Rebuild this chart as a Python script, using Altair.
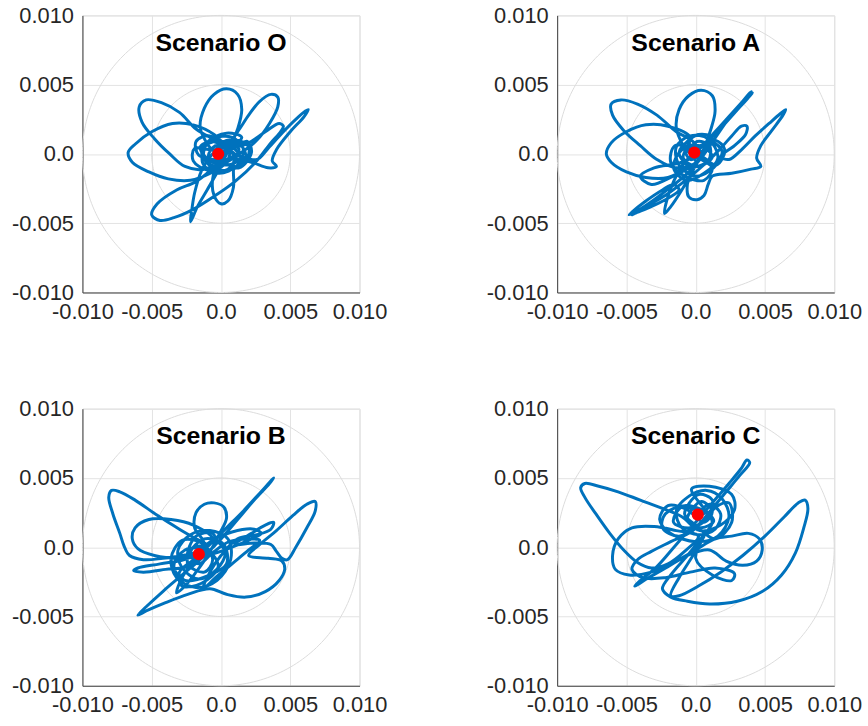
import numpy as np
import pandas as pd
import altair as alt

# Trajectory waypoints, in thousandths (x 1e-3)
titles = ["Scenario O", "Scenario A", "Scenario B", "Scenario C"]

o_path = [
    (0, 0), (1.2, 0.8), (1.8, -0.2), (0.9, -1.1), (-0.6, -1.0), (-1.4, 0.2), (-0.6, 1.1), (0.8, 1.2),
    (1.6, 0.4), (1.2, -0.8), (-0.2, -1.4), (-1.3, -0.7), (-1.1, 0.6), (0.2, 0.9), (1.4, -0.3),
    (0.4, -0.8), (-0.9, -0.2), (-0.4, 0.6), (0.9, 0.5), (1.9, 0.9), (2.2, 0.1), (1.3, -1.0),
    (-0.1, -0.5), (-1.6, -0.1), (-1.8, 0.9), (-0.8, 1.3), (0.6, 0.2),
    # left horizontal ellipse
    (-0.5, 1.4), (-2.0, 2.1), (-3.5, 2.2), (-5.0, 1.6), (-6.2, 0.7), (-6.7, 0.1), (-6.4, -0.6),
    (-5.2, -1.3), (-3.8, -1.8), (-2.2, -1.9), (-0.8, -1.4), (0.4, -0.6),
    # upper-left petal
    (0.6, 0.5), (-0.6, 1.1), (-1.8, 1.8), (-3.0, 3.0), (-4.3, 3.7), (-5.4, 3.9), (-5.9, 3.4),
    (-5.7, 2.3), (-4.8, 1.1), (-3.7, 0.0), (-2.6, -0.9), (-1.2, -1.1), (0.0, -0.4),
    # top petal and bottom spike
    (-0.9, 0.6), (-1.5, 1.9), (-1.2, 3.3), (-0.5, 4.3), (0.4, 4.7), (1.2, 4.3), (1.5, 3.2),
    (1.2, 1.8), (0.6, 0.4), (-0.2, -1.2), (-1.0, -2.6), (-1.7, -3.8), (-2.2, -4.9), (-2.1, -4.0),
    (-1.9, -2.8), (-1.4, -1.2), (-0.6, 0.0),
    # upper-right petal
    (0.4, 0.6), (1.2, 1.6), (2.0, 2.8), (2.8, 3.8), (3.6, 4.3), (4.1, 4.1), (4.1, 3.4), (3.5, 2.2),
    (2.6, 1.0), (1.6, 0.2), (0.8, -0.2),
    # lower tilted ellipse
    (-0.5, -1.0), (-1.8, -2.0), (-3.2, -2.6), (-4.6, -3.6), (-5.0, -4.4), (-4.4, -4.8), (-3.4, -4.6),
    (-2.0, -4.0), (-0.4, -3.0), (1.0, -2.0), (2.5, -0.6), (3.6, 0.8), (4.3, 1.6), (4.5, 2.0),
    (4.2, 2.2), (3.2, 1.6), (2.0, 0.8), (0.6, 0.2),
    # right spike
    (1.5, -0.2), (2.6, -0.4), (3.4, 0.4), (4.4, 1.5), (5.4, 2.5), (6.1, 3.1), (6.3, 3.2), (6.0, 2.7),
    (5.0, 1.6), (4.0, 0.3), (3.7, -0.5), (4.0, -0.9), (3.4, -1.0), (2.2, -0.6), (1.0, -0.4),
    # bottom loop
    (0.9, -1.2), (0.9, -2.4), (0.5, -3.4), (0.0, -3.6), (-0.5, -3.0), (-0.6, -1.8), (-0.2, -0.6),
    (0.7, 0.4), (1.5, 1.2), (0.4, 1.5), (-1.0, 0.8), (-1.2, -0.4), (-0.2, -0.9), (0.6, -0.3),
    (1.7, -0.6), (2.0, 0.5), (1.0, 1.0), (-0.4, 0.3), (-1.9, 0.4), (-2.0, -0.5), (-0.9, -1.2),
    (0.5, -1.1), (1.1, -0.2), (0.3, 0.5), (-0.7, 0.9), (-1.5, 0.5), (-0.8, -0.5), (0.4, -0.6),
    (1.3, 0.3), (0.6, 1.0), (-0.3, 0.4), (-0.2, 0.0),
]

a_path = [
    (0, 0), (1.0, 0.9), (1.9, 0.2), (1.3, -1.0), (0.0, -1.6), (-1.2, -0.8), (-1.4, 0.5), (-0.4, 1.3),
    (0.9, 1.1), (1.6, -0.3), (0.6, -1.4), (-0.7, -1.9), (-1.6, -1.0), (-1.0, 0.3), (0.3, 0.6),
    (1.2, -0.2), (0.2, -0.9), (-0.9, -0.3),
    # left horizontal ellipse
    (-0.4, 1.2), (-2.0, 2.0), (-3.6, 2.1), (-5.0, 1.6), (-6.1, 0.8), (-6.45, 0.0), (-6.1, -0.6),
    (-5.0, -1.3), (-3.6, -1.7), (-2.0, -1.7), (-0.6, -1.0), (0.4, -0.2),
    # upper-left petal
    (-0.2, 0.9), (-1.4, 1.6), (-2.8, 2.8), (-4.2, 3.6), (-5.4, 3.9), (-6.1, 3.6), (-6.0, 2.8),
    (-5.2, 1.7), (-4.0, 0.6), (-2.8, -0.4), (-1.4, -1.0), (0.0, -0.6),
    # top petal and bottom tip
    (-0.9, 0.6), (-1.4, 1.9), (-1.2, 3.2), (-0.5, 4.2), (0.4, 4.6), (1.2, 4.2), (1.4, 3.1),
    (1.1, 1.8), (0.6, 0.4), (-0.2, -1.2), (-1.0, -2.6), (-1.8, -3.8), (-2.25, -4.3), (-2.1, -3.4),
    (-1.6, -2.0), (-0.8, -0.6),
    # upper-right double spike
    (0.4, 0.5), (1.4, 1.6), (2.4, 2.7), (3.3, 3.7), (4.0, 4.5), (3.9, 4.2), (3.1, 3.3), (2.1, 2.3),
    (1.2, 1.3), (1.4, 1.4), (2.3, 2.4), (3.2, 3.4), (4.1, 4.4), (3.7, 4.0), (2.5, 2.7), (1.3, 1.0),
    (0.4, -0.3),
    # lower-left narrow loop and spike
    (-0.6, -1.4), (-1.8, -2.4), (-3.0, -3.3), (-4.2, -4.1), (-4.8, -4.4), (-4.6, -4.2), (-3.6, -3.4),
    (-2.4, -2.6), (-1.6, -2.2), (-1.2, -2.6), (-2.0, -3.2), (-3.2, -3.8), (-4.4, -4.3), (-4.6, -4.4),
    (-3.8, -3.9), (-2.2, -3.0), (-0.6, -1.8), (0.8, -0.6),
    # right petal
    (1.8, 0.4), (2.6, 1.3), (3.3, 2.0), (3.7, 2.0), (3.6, 1.4), (2.8, 0.6), (1.8, -0.2),
    # right spike
    (2.4, -0.4), (3.3, 0.3), (4.3, 1.3), (5.3, 2.2), (6.1, 2.9), (6.5, 3.2), (6.3, 2.8), (5.5, 1.7),
    (4.7, 0.6), (4.4, -0.3), (4.7, -0.9), (4.0, -1.1), (2.6, -1.4), (1.2, -1.6),
    # lower loop
    (0.9, -2.2), (0.6, -3.0), (0.1, -3.3), (-0.5, -3.1), (-0.6, -2.2), (-0.2, -1.0),
    (-1.6, -1.6), (-3.2, -2.2), (-4.0, -1.6), (-3.0, -1.0), (-1.0, -0.6),
    (0.6, 0.3), (1.2, 1.2), (0.2, 1.4), (-0.8, 0.6), (-0.4, -0.4), (0.4, -0.2),
    (1.5, -0.8), (2.1, 0.3), (1.4, 1.0), (0.0, 0.5), (-1.5, 0.6), (-1.8, -0.6), (-0.8, -1.6),
    (0.6, -1.9), (1.2, -1.0), (0.3, -0.3), (-0.6, 0.8), (-1.2, 0.1), (-0.4, -0.9), (0.9, -0.5),
    (1.0, 0.6), (0.1, 0.9), (-0.5, 0.2), (-0.1, 0.1),
]

b_path = [
    (-1.6, -0.5), (-0.5, 0.5), (0.3, -0.4), (-0.3, -1.6), (-1.6, -2.3), (-2.8, -1.5), (-3.1, -0.2),
    (-2.2, 0.9), (-0.8, 1.2), (0.5, 0.6), (0.7, -0.9), (-0.3, -2.4), (-1.8, -2.9), (-3.2, -2.2),
    (-3.6, -0.8), (-2.8, 0.5), (-1.4, 0.3), (-0.6, -0.9), (-1.2, -1.8), (-2.4, -1.2), (-2.0, 0.0),
    (-0.9, 0.1),
    # upper-left petal
    (-1.8, 0.6), (-3.0, 1.3), (-4.6, 2.3), (-6.2, 3.4), (-7.3, 4.0), (-7.9, 4.1), (-8.1, 3.6),
    (-7.8, 2.4), (-7.3, 1.0), (-7.0, 0.1), (-6.6, -0.6), (-5.6, -0.9), (-4.2, -0.8), (-2.8, -0.6),
    (-1.6, -0.3),
    # wide upper ellipse
    (-0.6, 0.6), (-2.0, 1.6), (-3.6, 2.0), (-5.2, 2.0), (-6.2, 1.4), (-6.4, 0.6), (-6.0, -0.1),
    (-4.8, -0.6), (-3.0, -0.8), (-1.0, -0.6), (0.8, 0.0), (2.2, 0.6), (2.9, 1.0), (2.4, 1.3),
    (0.8, 1.1), (-0.6, 0.5),
    # left lower loop
    (-2.4, -0.8), (-4.4, -1.2), (-6.0, -1.5), (-6.3, -1.7), (-5.6, -1.8), (-4.0, -1.6), (-2.2, -1.3),
    # top petal and bottom tip
    (-1.2, 0.2), (-1.9, 1.4), (-1.8, 2.5), (-1.2, 3.1), (-0.5, 3.2), (0.2, 2.9), (0.4, 2.1),
    (-0.1, 1.0), (-0.9, -0.5), (-1.8, -1.8), (-2.6, -2.8), (-3.2, -3.3), (-3.0, -2.6), (-2.3, -1.4),
    # long diagonal spike
    (-1.0, 0.0), (0.4, 1.4), (1.6, 2.6), (2.8, 3.9), (3.8, 5.0), (3.5, 4.6), (2.4, 3.4), (1.2, 2.0),
    (0.0, 0.6), (-1.4, -0.8), (-2.8, -2.0), (-4.2, -3.2), (-5.4, -4.3), (-6.0, -4.9), (-5.4, -4.6),
    (-4.0, -4.0), (-2.4, -3.4), (-0.8, -3.0),
    # big lower ellipse
    (0.4, -3.4), (1.8, -3.6), (3.2, -3.2), (4.2, -2.4), (4.6, -1.6), (4.4, -1.0), (3.4, -0.8),
    (2.0, -0.6),
    # right loop
    (2.8, 0.2), (4.0, 1.2), (5.2, 2.3), (6.2, 3.1), (6.8, 3.3), (6.8, 2.6), (6.2, 1.4), (5.4, 0.0),
    (4.8, -0.9), (4.4, -0.8), (4.0, -0.3), (3.6, 0.2), (2.4, 0.3), (1.0, 0.2),
    # small right loop
    (2.2, 1.0), (3.2, 1.6), (3.8, 1.8), (3.6, 1.3), (2.6, 0.9), (1.2, 0.6),
    # diagonal from the bottom
    (0.0, -0.6), (-0.8, -1.8), (-1.3, -3.0), (-0.4, -2.2), (0.8, -1.2), (2.0, -0.2), (2.8, 0.5),
    (2.4, 0.6), (0.6, 0.4),
    (-0.6, -0.4), (-1.6, -1.2), (-2.2, -0.4), (-1.2, 0.6), (0.2, 0.2), (0.4, -1.2), (-0.8, -2.0),
    (-2.6, -2.4), (-3.4, -1.4), (-2.6, -0.2), (-1.0, -0.2), (-0.2, -1.4), (-1.4, -2.6), (-2.8, -2.8),
    (-3.0, -1.8), (-1.8, -0.8), (-0.4, 0.2), (-0.6, 1.0), (-1.8, 0.8), (-2.4, -0.6), (-1.6, -0.5),
]

c_path = [
    (0.15, 2.35), (1.0, 3.1), (1.8, 2.4), (1.4, 1.3), (0.2, 0.9), (-1.0, 1.4), (-1.4, 2.6),
    (-0.6, 3.6), (0.8, 4.1), (1.9, 3.5), (2.4, 2.2), (1.6, 0.8), (0.0, 0.4), (-1.8, 1.0),
    (-2.6, 2.0), (-2.0, 3.0), (-0.6, 2.7), (0.6, 1.8), (1.2, 2.6), (0.4, 3.3), (-0.6, 2.0),
    (0.4, 1.4), (1.3, 1.9), (0.6, 2.8), (-0.3, 4.2), (1.0, 4.4), (2.6, 3.8), (2.8, 2.7), (1.8, 1.6),
    (0.3, 1.2),
    # upper-left long petal
    (-1.0, 2.2), (-2.4, 2.8), (-4.0, 3.4), (-5.6, 4.0), (-7.0, 4.4), (-8.0, 4.6), (-8.3, 4.3),
    (-8.0, 3.6), (-7.2, 2.4), (-6.2, 1.0), (-5.2, -0.2), (-4.2, -1.1), (-3.2, -1.5), (-2.0, -1.2),
    (-0.8, -0.3), (0.2, 0.8),
    # left loop
    (-1.4, 1.2), (-3.0, 1.5), (-4.6, 1.4), (-5.6, 0.6), (-6.0, -0.6), (-5.8, -1.6), (-4.8, -2.0),
    (-3.2, -1.8), (-1.6, -1.1), (0.0, -0.2), (1.4, 0.6),
    # right lobe
    (2.6, 0.8), (3.8, 1.0), (4.6, 0.6), (4.8, -0.2), (4.4, -1.0), (3.4, -1.3), (2.2, -1.0), (1.0, -0.2),
    # diagonal double stroke
    (-0.6, -0.6), (-2.0, -1.4), (-3.4, -2.2), (-4.4, -2.8), (-4.1, -2.5), (-2.8, -1.4), (-1.4, 0.2),
    (0.0, 1.8), (1.2, 3.2), (2.4, 4.6), (3.3, 5.7), (3.7, 6.3), (3.9, 6.1), (3.2, 5.2), (2.2, 4.0),
    (1.2, 2.8),
    # middle loop to the left
    (-0.2, 1.2), (-1.8, 0.4), (-3.2, -0.3), (-4.2, -0.9), (-4.6, -1.6), (-3.8, -2.2), (-2.2, -2.2),
    (-0.4, -1.8), (1.4, -1.5), (2.8, -1.9), (2.6, -2.4), (1.2, -2.0), (0.0, -0.8), (0.6, 0.8),
    # big lower ellipse and right loop
    (-0.2, -0.6), (-1.2, -2.2), (-1.8, -3.5), (-1.2, -3.5), (0.2, -2.8), (1.8, -1.8), (3.4, -0.6),
    (5.0, 0.8), (6.4, 2.2), (7.4, 3.2), (7.9, 3.4), (8.1, 2.8), (7.8, 1.4), (7.2, -0.4), (6.2, -2.0),
    (4.8, -3.2), (3.0, -3.9), (1.0, -4.1), (-0.6, -3.9), (-1.8, -3.6), (-2.4, -3.0), (-1.8, -2.0),
    (-0.6, -0.6), (0.6, 0.9), (1.2, 1.8), (0.6, 2.6),
    (-0.8, 3.0), (-2.2, 2.4), (-2.4, 1.4), (-1.2, 0.8), (0.4, 1.8), (1.6, 3.0), (2.4, 3.2),
    (2.6, 1.8), (1.4, 0.6), (0.0, 1.6), (-0.8, 2.4), (0.2, 3.8), (1.2, 3.4), (1.0, 2.2), (-0.4, 1.4),
    (-1.6, 1.8), (-1.0, 2.9), (0.6, 2.4), (0.15, 2.35),
]

paths = [o_path, a_path, b_path, c_path]
# red marker for each scenario, thousandths
centers = [(-0.2, 0.0), (-0.1, 0.1), (-1.6, -0.5), (0.15, 2.35)]

ring_radii = [0.005, 0.010]
tick_values = [-0.010, -0.005, 0.0, 0.005, 0.010]

SIZE = 279
FONT = "Liberation Sans"
BLUE = "#0072BD"

label_expr = ("datum.value == 0 ? '0.0' : (datum.value < 0 ? '-' + format(abs(datum.value), '.3f') "
              ": format(datum.value, '.3f'))")

# polar reference rings
theta = np.linspace(0, 2 * np.pi, 241)
ring_rows = []
for r in ring_radii:
    for i, t in enumerate(theta):
        ring_rows.append({"r": r, "i": i, "x": r * np.cos(t), "y": r * np.sin(t)})
ring_df = pd.DataFrame(ring_rows)

xscale = alt.Scale(domain=[-0.01, 0.01], nice=False, zero=False)
yscale = alt.Scale(domain=[-0.01, 0.01], nice=False, zero=False)


def axis():
    return alt.Axis(values=tick_values, labelExpr=label_expr, title=None, grid=True,
                    gridColor="#e3e3e3", gridWidth=1, ticks=False, domain=True,
                    domainColor="#404040", domainWidth=1, labelFont=FONT, labelFontSize=22,
                    labelColor="#262626", labelPadding=9, labelOverlap=False, labelFlush=False)


def panel(k):
    pts = paths[k]
    df = pd.DataFrame({"x": [p[0] / 1000 for p in pts], "y": [p[1] / 1000 for p in pts],
                       "idx": list(range(len(pts)))})
    cdf = pd.DataFrame({"x": [centers[k][0] / 1000], "y": [centers[k][1] / 1000]})
    tdf = pd.DataFrame({"t": [titles[k]]})

    rings = alt.Chart(ring_df).mark_line(color="#dcdcdc", strokeWidth=1).encode(
        x=alt.X("x:Q", scale=xscale, axis=axis()),
        y=alt.Y("y:Q", scale=yscale, axis=axis()),
        detail="r:N", order="i:Q")
    traj = alt.Chart(df).mark_line(color=BLUE, strokeWidth=3, interpolate="catmull-rom",
                                   clip=True).encode(
        x=alt.X("x:Q", scale=xscale), y=alt.Y("y:Q", scale=yscale), order="idx:Q")
    dot = alt.Chart(cdf).mark_point(filled=True, color="#ff0000", opacity=1, size=150).encode(
        x=alt.X("x:Q", scale=xscale), y=alt.Y("y:Q", scale=yscale))
    ttl = alt.Chart(tdf).mark_text(font=FONT, fontSize=25, fontWeight="bold", color="#000000",
                                   align="center", baseline="middle").encode(
        text="t:N", x=alt.value(SIZE / 2), y=alt.value(28))
    return alt.layer(rings, traj, dot, ttl).properties(width=SIZE, height=SIZE)


chart = alt.concat(panel(0), panel(1), panel(2), panel(3), columns=2,
                   spacing={"row": 117, "column": 199}, bounds="flush").properties(
    padding={"left": 11, "top": 1, "right": 5, "bottom": 5}
).configure_view(stroke="#a6a6a6", strokeWidth=1).configure(background="white")

chart.save("out.html", embed_options={"renderer": "svg", "actions": False})
